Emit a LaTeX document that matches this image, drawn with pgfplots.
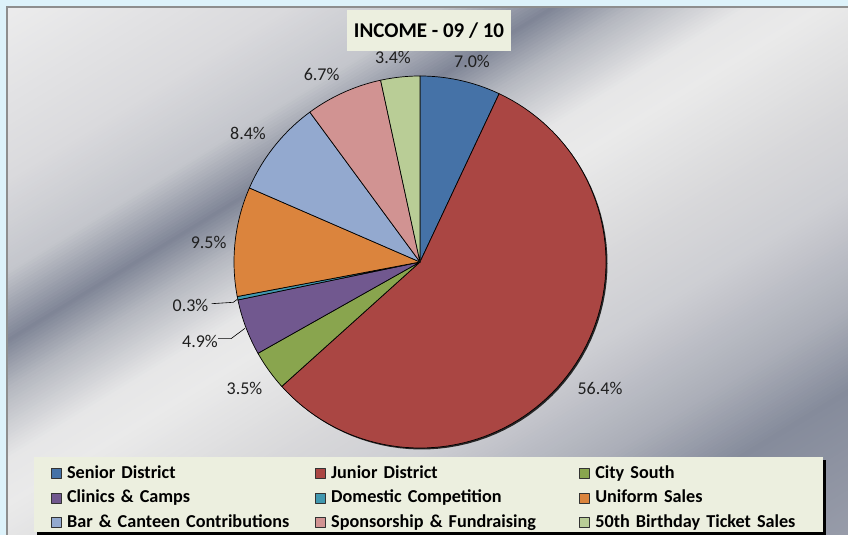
\documentclass[border=0pt]{standalone}
\usepackage{fontspec}
\setmainfont{Carlito}
\usepackage{pgfplots}
\pgfplotsset{compat=1.18}

\definecolor{cSenior}{HTML}{4572A7}
\definecolor{cJunior}{HTML}{AA4643}
\definecolor{cCity}{HTML}{89A54E}
\definecolor{cClinic}{HTML}{71588F}
\definecolor{cDomestic}{HTML}{4198AF}
\definecolor{cUniform}{HTML}{DB843D}
\definecolor{cBar}{HTML}{93A9CF}
\definecolor{cSponsor}{HTML}{D19392}
\definecolor{cBirthday}{HTML}{B9CD96}
\definecolor{boxbg}{HTML}{ECEFDF}
\definecolor{framec}{HTML}{8E8E8E}
\definecolor{outerc}{HTML}{DDF2FA}
% metallic background, stops along the diagonal
\definecolor{bg1}{HTML}{EFEFEF}
\definecolor{bg2}{HTML}{DADADD}
\definecolor{bg3}{HTML}{C4C6CC}
\definecolor{bg4}{HTML}{7F8596}
\definecolor{bg5}{HTML}{B4B7BF}
\definecolor{bg6}{HTML}{E6E6E7}
\definecolor{bg7}{HTML}{EAEAEA}
\definecolor{bg8}{HTML}{D8D8DA}
\definecolor{bg9}{HTML}{CDCED3}
\definecolor{bg10}{HTML}{ABAEB8}
\definecolor{bg11}{HTML}{858B9B}
\definecolor{bg12}{HTML}{9A9EAB}

% one pie slice: start (percent), value (percent), colour
\newcommand{\slice}[3]{%
  \pgfmathsetmacro\aStart{90-3.5964*(#1+#2)}%
  \pgfmathsetmacro\aEnd{90-3.5964*(#1)}%
  \addplot[draw=black, line width=0.7pt, line join=round, fill=#3,
    samples=90, variable=\t, domain=\aStart:\aEnd]
    ({420+186*cos(\t)}, {273+186*sin(\t)}) -- (axis cs:420,273) -- cycle;}

\begin{document}
\begin{tikzpicture}[x=1pt,y=1pt,
    lbl/.style={font=\fontsize{18}{20}\selectfont, text=black!88, inner sep=0pt}]
\useasboundingbox (0,0) rectangle (848,535);
\fill[outerc] (0,0) rectangle (848,535);

% chart area background
\begin{scope}
  \clip (7.75,0) rectangle (848,527.25);
  \begin{scope}[rotate=121.4]
    \foreach \ua/\ca/\ub/\cb in {-460/bg12/-320/bg11, -320/bg11/-250/bg10,
        -250/bg10/-150/bg9, -150/bg9/-80/bg8, -80/bg8/20/bg7, 20/bg7/60/bg6,
        60/bg6/120/bg5, 120/bg5/161/bg4, 161/bg4/220/bg3, 220/bg3/300/bg2,
        300/bg2/470/bg1}{
      \pgfmathsetmacro\un{\ua+3}
      \foreach \u in {\ua,\un,...,\ub}{
        \pgfmathsetmacro\p{(\u-\ua)/(\ub-\ua)*100}
        \fill[\cb!\p!\ca] (\u,-1050) rectangle ++(3.6,1100);
      }
    }
  \end{scope}
\end{scope}
\draw[framec, line width=1.5pt] (7,0) -- (7,528) -- (848,528);

% legend box with shadow
\fill[black] (36.5,0) rectangle (826,74.8);
\fill[boxbg] (33.5,2.7) rectangle (822.7,78.3);

\begin{axis}[
    at={(0,0)}, anchor=south west,
    scale only axis, width=848pt, height=535pt,
    xmin=0, xmax=848, ymin=0, ymax=535,
    hide axis, clip=false,
    legend columns=3,
    legend image code/.code={
      \draw[#1, line width=0.6pt, draw=black!80] (0pt,-4.5pt) rectangle (9.5pt,5.5pt);},
    legend style={at={(axis cs:51,73.4)}, anchor=north west,
      draw=none, fill=none, inner sep=0pt, outer sep=0pt,
      column sep=0pt, row sep=0pt,
      nodes={text width=242pt, align=left, inner xsep=6pt, inner ysep=3.75pt,
        text height=13pt, text depth=4pt,
        font=\fontsize{18.2}{20}\selectfont\bfseries}}
]
% shadow under the pie
\addplot[forget plot, draw=none, fill=black!85, samples=120, variable=\t, domain=0:360]
  ({421.5+186*cos(\t)}, {271.5+186*sin(\t)});

\slice{0}{7.0}{cSenior}
\addlegendentry{Senior District}
\slice{7.0}{56.4}{cJunior}
\addlegendentry{Junior District}
\slice{63.4}{3.5}{cCity}
\addlegendentry{City South}
\slice{66.9}{4.9}{cClinic}
\addlegendentry{Clinics \& Camps}
\slice{71.8}{0.3}{cDomestic}
\addlegendentry{Domestic Competition}
\slice{72.1}{9.5}{cUniform}
\addlegendentry{Uniform Sales}
\slice{81.6}{8.4}{cBar}
\addlegendentry{Bar \& Canteen Contributions}
\slice{90.0}{6.7}{cSponsor}
\addlegendentry{Sponsorship \& Fundraising}
\slice{96.7}{3.4}{cBirthday}
\addlegendentry{50th Birthday Ticket Sales}

% data labels
\node[lbl] at (axis cs:472,474) {7.0\%};
\node[lbl] at (axis cs:393,477.3) {3.4\%};
\node[lbl] at (axis cs:321.6,461) {6.7\%};
\node[lbl] at (axis cs:248,401.5) {8.4\%};
\node[lbl] at (axis cs:208.6,293) {9.5\%};
\node[lbl] at (axis cs:190.5,229.5) {0.3\%};
\node[lbl] at (axis cs:200,194) {4.9\%};
\node[lbl] at (axis cs:244.5,146.4) {3.5\%};
\node[lbl] at (axis cs:600,146.4) {56.4\%};
\draw[black, line width=0.6pt] (axis cs:211.7,231.3) -- (axis cs:233.3,232.7) -- (axis cs:237.3,235.7);
\draw[black, line width=0.6pt] (axis cs:218,196.3) -- (axis cs:231,196.3) -- (axis cs:245,206.7);

% title
\node[fill=boxbg, minimum width=164pt, minimum height=41pt, inner sep=0pt,
  font=\fontsize{21}{24}\selectfont\bfseries] at (axis cs:429,504.5) {INCOME - 09 / 10};
\end{axis}
\end{tikzpicture}
\end{document}
